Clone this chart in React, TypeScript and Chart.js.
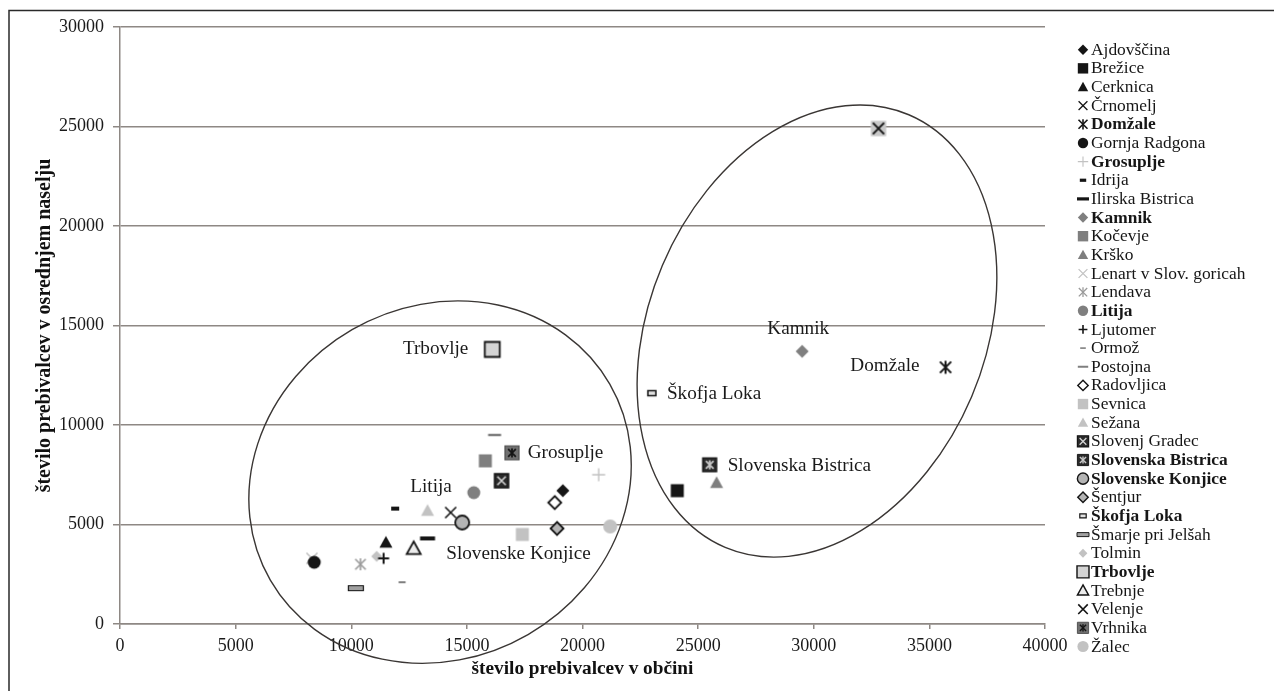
import React, { useEffect, useRef } from 'react';
import { Chart, registerables } from 'chart.js';

Chart.register(...registerables);

// ---------------- data ----------------
const MUNICIPALITIES = [
  'Ajdovščina', 'Brežice', 'Cerknica', 'Črnomelj', 'Domžale', 'Gornja Radgona', 'Grosuplje',
  'Idrija', 'Ilirska Bistrica', 'Kamnik', 'Kočevje', 'Krško', 'Lenart v Slov. goricah', 'Lendava',
  'Litija', 'Ljutomer', 'Ormož', 'Postojna', 'Radovljica', 'Sevnica', 'Sežana', 'Slovenj Gradec',
  'Slovenska Bistrica', 'Slovenske Konjice', 'Šentjur', 'Škofja Loka', 'Šmarje pri Jelšah', 'Tolmin',
  'Trbovlje', 'Trebnje', 'Velenje', 'Vrhnika', 'Žalec',
];

// število prebivalcev v občini
const MUNICIPALITY_POP = [
  19150, 24100, 11500, 14300, 35700, 8400, 20700,
  11900, 13300, 29500, 15800, 25800, 8300, 10400,
  15300, 11400, 12200, 16200, 18800, 17400, 13300, 16500,
  25500, 14800, 18900, 23000, 10200, 11100,
  16100, 12700, 32800, 16950, 21200,
];

// število prebivalcev v osrednjem naselju
const TOWN_POP = [
  6700, 6700, 4100, 5600, 12900, 3100, 7500,
  5800, 4300, 13700, 8200, 7100, 3300, 3000,
  6600, 3300, 2100, 9500, 6100, 4500, 5700, 7200,
  8000, 5100, 4800, 11600, 1800, 3400,
  13800, 3800, 24900, 8600, 4900,
];

const HIGHLIGHTED = [
  'Domžale', 'Grosuplje', 'Kamnik', 'Litija', 'Slovenska Bistrica', 'Slovenske Konjice', 'Škofja Loka', 'Trbovlje',
];

const X_TICKS = [0, 5000, 10000, 15000, 20000, 25000, 30000, 35000, 40000];
const Y_TICKS = [0, 5000, 10000, 15000, 20000, 25000, 30000];

const X_TITLE = 'število prebivalcev v občini';
const Y_TITLE = 'število prebivalcev v osrednjem naselju';

// ---------------- styles ----------------
const BLACK = '#151515';
const GREY = '#7f7f7f';
const LIGHT = '#c2c2c2';
const WHITE = '#ffffff';
const GRID = '#8e8884';
const FONT = "'Liberation Serif', 'Times New Roman', serif";

type Marker = {
  shape: string;
  fill?: string;
  stroke?: string;
  inner?: string;
  size?: number;
  w?: number;
  h?: number;
  lw?: number;
};

const MARKERS: Record<string, Marker> = {
  'Ajdovščina': { shape: 'diamond', fill: BLACK, size: 13 },
  'Brežice': { shape: 'square', fill: BLACK, size: 13 },
  'Cerknica': { shape: 'triangle', fill: BLACK, size: 13 },
  'Črnomelj': { shape: 'x', stroke: BLACK, size: 13, lw: 1.6 },
  'Domžale': { shape: 'asterisk', stroke: BLACK, size: 15, lw: 2 },
  'Gornja Radgona': { shape: 'circle', fill: BLACK, size: 13 },
  'Grosuplje': { shape: 'plus', stroke: LIGHT, size: 13, lw: 1.4 },
  'Idrija': { shape: 'dash', fill: BLACK, w: 8, h: 4 },
  'Ilirska Bistrica': { shape: 'dash', fill: BLACK, w: 15, h: 4 },
  'Kamnik': { shape: 'diamond', fill: GREY, size: 13 },
  'Kočevje': { shape: 'square', fill: GREY, size: 13 },
  'Krško': { shape: 'triangle', fill: GREY, size: 13 },
  'Lenart v Slov. goricah': { shape: 'x', stroke: LIGHT, size: 13, lw: 1.6 },
  'Lendava': { shape: 'asterisk', stroke: '#9a9a9a', size: 14, lw: 1.6 },
  'Litija': { shape: 'circle', fill: GREY, size: 13 },
  'Ljutomer': { shape: 'plus', stroke: BLACK, size: 11, lw: 2 },
  'Ormož': { shape: 'dash', fill: GREY, w: 7, h: 2 },
  'Postojna': { shape: 'dash', fill: GREY, w: 13, h: 2.5 },
  'Radovljica': { shape: 'diamond', fill: WHITE, stroke: BLACK, size: 13, lw: 1.8 },
  'Sevnica': { shape: 'square', fill: LIGHT, size: 13 },
  'Sežana': { shape: 'triangle', fill: LIGHT, size: 13 },
  'Slovenj Gradec': { shape: 'boxX', fill: '#2a2a2a', stroke: BLACK, inner: '#d6d6d6', size: 14 },
  'Slovenska Bistrica': { shape: 'boxAst', fill: '#2a2a2a', stroke: BLACK, inner: '#c8c8c8', size: 14 },
  'Slovenske Konjice': { shape: 'circle', fill: '#b4b4b4', stroke: BLACK, size: 14, lw: 1.8 },
  'Šentjur': { shape: 'diamond', fill: '#b4b4b4', stroke: BLACK, size: 13, lw: 1.8 },
  'Škofja Loka': { shape: 'dash', fill: '#e2e2e2', stroke: BLACK, w: 8, h: 5, lw: 1.5 },
  'Šmarje pri Jelšah': { shape: 'dash', fill: '#a0a0a0', stroke: BLACK, w: 15, h: 5, lw: 1.2 },
  'Tolmin': { shape: 'diamond', fill: LIGHT, size: 11 },
  'Trbovlje': { shape: 'square', fill: '#d4d4d4', stroke: BLACK, size: 15, lw: 1.8 },
  'Trebnje': { shape: 'triangle', fill: '#ececec', stroke: BLACK, size: 14, lw: 1.8 },
  'Velenje': { shape: 'xBox', fill: '#c8c8c8', stroke: BLACK, size: 14, lw: 2 },
  'Vrhnika': { shape: 'boxAst', fill: '#707070', stroke: '#505050', inner: BLACK, size: 14 },
  'Žalec': { shape: 'circle', fill: LIGHT, size: 14 },
};

// labels next to points: anchor municipality + pixel offset
const POINT_LABELS = [
  { text: 'Trbovlje', anchor: 'Trbovlje', dx: -24, dy: 0, align: 'right' },
  { text: 'Grosuplje', anchor: 'Grosuplje', dx: -71, dy: -22, align: 'left' },
  { text: 'Litija', anchor: 'Litija', dx: -22, dy: -6, align: 'right' },
  { text: 'Slovenske Konjice', anchor: 'Slovenske Konjice', dx: -16, dy: 31, align: 'left' },
  { text: 'Kamnik', anchor: 'Kamnik', dx: -4, dy: -22, align: 'center' },
  { text: 'Domžale', anchor: 'Domžale', dx: -26, dy: -1, align: 'right' },
  { text: 'Škofja Loka', anchor: 'Škofja Loka', dx: 15, dy: 1, align: 'left' },
  { text: 'Slovenska Bistrica', anchor: 'Slovenska Bistrica', dx: 18, dy: 1, align: 'left' },
];

// ellipses: centre in data units, semi-axes in px, rotation in degrees
const ELLIPSES = [
  { cx: 13840, cy: 7130, a: 196, b: 176, rot: -30 },
  { cx: 30140, cy: 14720, a: 235, b: 168, rot: -67 },
];

// ---------------- drawing helpers ----------------
function drawMarker(ctx: CanvasRenderingContext2D, m: Marker, x: number, y: number, legend = false) {
  const s = (m.size || 12) / 2;
  ctx.save();
  ctx.lineJoin = 'miter';
  ctx.lineCap = 'butt';
  const lw = m.lw || 1.5;
  const fillStroke = () => {
    if (m.fill) {
      ctx.fillStyle = m.fill;
      ctx.fill();
    }
    if (m.stroke) {
      ctx.strokeStyle = m.stroke;
      ctx.lineWidth = lw;
      ctx.stroke();
    }
  };
  const xLines = (r: number, color: string, w: number) => {
    ctx.beginPath();
    ctx.moveTo(x - r, y - r);
    ctx.lineTo(x + r, y + r);
    ctx.moveTo(x + r, y - r);
    ctx.lineTo(x - r, y + r);
    ctx.strokeStyle = color;
    ctx.lineWidth = w;
    ctx.stroke();
  };
  const astLines = (r: number, color: string, w: number) => {
    xLines(r, color, w);
    ctx.beginPath();
    ctx.moveTo(x, y - r * 1.15);
    ctx.lineTo(x, y + r * 1.15);
    ctx.strokeStyle = color;
    ctx.lineWidth = w;
    ctx.stroke();
  };
  let shape = m.shape;
  if (legend && shape === 'xBox') shape = 'x';
  switch (shape) {
    case 'diamond':
      ctx.beginPath();
      ctx.moveTo(x, y - s);
      ctx.lineTo(x + s, y);
      ctx.lineTo(x, y + s);
      ctx.lineTo(x - s, y);
      ctx.closePath();
      fillStroke();
      break;
    case 'square':
      ctx.beginPath();
      ctx.rect(x - s, y - s, 2 * s, 2 * s);
      fillStroke();
      break;
    case 'triangle':
      ctx.beginPath();
      ctx.moveTo(x, y - s * 1.0);
      ctx.lineTo(x + s, y + s * 0.8);
      ctx.lineTo(x - s, y + s * 0.8);
      ctx.closePath();
      fillStroke();
      break;
    case 'circle':
      ctx.beginPath();
      ctx.arc(x, y, s, 0, Math.PI * 2);
      fillStroke();
      break;
    case 'x':
      xLines(s * 0.85, m.stroke || BLACK, lw);
      break;
    case 'asterisk':
      astLines(s * 0.75, m.stroke || BLACK, lw);
      break;
    case 'plus':
      ctx.beginPath();
      ctx.moveTo(x - s, y);
      ctx.lineTo(x + s, y);
      ctx.moveTo(x, y - s);
      ctx.lineTo(x, y + s);
      ctx.strokeStyle = m.stroke || BLACK;
      ctx.lineWidth = lw;
      ctx.stroke();
      break;
    case 'dash': {
      const w = m.w || 8;
      const h = m.h || 3;
      ctx.beginPath();
      ctx.rect(x - w / 2, y - h / 2, w, h);
      fillStroke();
      break;
    }
    case 'boxX':
      ctx.beginPath();
      ctx.rect(x - s, y - s, 2 * s, 2 * s);
      ctx.fillStyle = m.fill || BLACK;
      ctx.fill();
      ctx.strokeStyle = m.stroke || BLACK;
      ctx.lineWidth = 1.5;
      ctx.stroke();
      xLines(s * 0.6, m.inner || WHITE, 1.6);
      break;
    case 'boxAst':
      ctx.beginPath();
      ctx.rect(x - s, y - s, 2 * s, 2 * s);
      ctx.fillStyle = m.fill || BLACK;
      ctx.fill();
      ctx.strokeStyle = m.stroke || BLACK;
      ctx.lineWidth = 1.2;
      ctx.stroke();
      astLines(s * 0.55, m.inner || WHITE, 1.8);
      break;
    case 'xBox':
      ctx.beginPath();
      ctx.rect(x - s * 1.1, y - s * 1.1, 2.2 * s, 2.2 * s);
      ctx.fillStyle = m.fill || LIGHT;
      ctx.fill();
      xLines(s * 0.8, m.stroke || BLACK, lw);
      break;
  }
  ctx.restore();
}

function makePointStyle(m: Marker): HTMLCanvasElement {
  const c = document.createElement('canvas');
  c.width = 26;
  c.height = 26;
  const ctx = c.getContext('2d') as CanvasRenderingContext2D;
  drawMarker(ctx, m, 13, 13);
  return c;
}

const LEGEND_MARK_X = 1083;
const LEGEND_TEXT_X = 1091;
const LEGEND_TOP = 49.7;
const LEGEND_ROW = 18.65;
const LEGEND_SCALE = 0.8;

const legendPlugin = {
  id: 'customLegend',
  afterDraw(chart: any) {
    const ctx: CanvasRenderingContext2D = chart.ctx;
    ctx.save();
    MUNICIPALITIES.forEach((name, i) => {
      const y = LEGEND_TOP + i * LEGEND_ROW;
      ctx.save();
      ctx.translate(LEGEND_MARK_X, y);
      ctx.scale(LEGEND_SCALE, LEGEND_SCALE);
      drawMarker(ctx, MARKERS[name], 0, 0, true);
      ctx.restore();
      const bold = HIGHLIGHTED.includes(name);
      ctx.font = `${bold ? 'bold ' : ''}17.4px ${FONT}`;
      ctx.fillStyle = '#161616';
      ctx.textAlign = 'left';
      ctx.textBaseline = 'middle';
      ctx.fillText(name, LEGEND_TEXT_X, y + 0.5);
    });
    ctx.restore();
  },
};

const annotationPlugin = {
  id: 'annotations',
  afterDatasetsDraw(chart: any) {
    const ctx: CanvasRenderingContext2D = chart.ctx;
    const xs = chart.scales.x;
    const ys = chart.scales.y;
    ctx.save();
    // point labels
    ctx.font = `19.2px ${FONT}`;
    ctx.fillStyle = '#1a1a1a';
    ctx.textBaseline = 'middle';
    POINT_LABELS.forEach((l) => {
      const idx = MUNICIPALITIES.indexOf(l.anchor);
      const el = chart.getDatasetMeta(idx).data[0];
      if (!el) return;
      ctx.textAlign = l.align as CanvasTextAlign;
      ctx.fillText(l.text, el.x + l.dx, el.y + l.dy);
    });
    // ellipses
    ctx.strokeStyle = '#3a3634';
    ctx.lineWidth = 1.4;
    ELLIPSES.forEach((e) => {
      const px = xs.getPixelForValue(e.cx);
      const py = ys.getPixelForValue(e.cy);
      ctx.beginPath();
      ctx.ellipse(px, py, e.a, e.b, (e.rot * Math.PI) / 180, 0, Math.PI * 2);
      ctx.stroke();
    });
    ctx.restore();
  },
  afterDraw(chart: any) {
    const ctx: CanvasRenderingContext2D = chart.ctx;
    ctx.save();
    ctx.strokeStyle = '#2a2a2a';
    ctx.lineWidth = 1.5;
    ctx.strokeRect(9, 10.5, 2000, 2000);
    ctx.restore();
  },
};

export default function App() {
  const ref = useRef<HTMLCanvasElement | null>(null);

  useEffect(() => {
    if (!ref.current) return;
    Chart.defaults.font.family = FONT;
    const datasets = MUNICIPALITIES.map((name, i) => ({
      label: name,
      data: [{ x: MUNICIPALITY_POP[i], y: TOWN_POP[i] }],
      pointStyle: makePointStyle(MARKERS[name]) as any,
      pointRadius: 6,
      pointHoverRadius: 6,
    }));
    const chart = new Chart(ref.current, {
      type: 'scatter',
      data: { datasets },
      options: {
        animation: false,
        responsive: true,
        maintainAspectRatio: false,
        events: [],
        layout: { padding: { left: 0, top: 27, right: 229, bottom: 0 } },
        plugins: {
          legend: { display: false },
          tooltip: { enabled: false },
        },
        scales: {
          x: {
            type: 'linear',
            min: X_TICKS[0],
            max: X_TICKS[X_TICKS.length - 1],
            afterFit: (s: any) => {
              s.height = 67;
            },
            ticks: {
              stepSize: X_TICKS[1] - X_TICKS[0],
              autoSkip: false,
              maxRotation: 0,
              padding: 6,
              color: '#1a1a1a',
              font: { size: 18, family: FONT },
              callback: (v: any) => String(v),
            },
            grid: {
              drawOnChartArea: false,
              drawTicks: true,
              tickLength: 5,
              color: GRID,
              lineWidth: 1.5,
            },
            border: { display: true, color: GRID, width: 1.5 },
            title: {
              display: true,
              text: X_TITLE,
              color: '#111',
              font: { size: 19.3, weight: 'bold', family: FONT },
              padding: { top: 0, bottom: 10 },
            },
          },
          y: {
            type: 'linear',
            min: Y_TICKS[0],
            max: Y_TICKS[Y_TICKS.length - 1],
            afterFit: (s: any) => {
              s.width = 120;
            },
            ticks: {
              stepSize: Y_TICKS[1] - Y_TICKS[0],
              padding: 9,
              color: '#1a1a1a',
              font: { size: 18, family: FONT },
              callback: (v: any) => String(v),
            },
            grid: {
              drawOnChartArea: true,
              drawTicks: true,
              tickLength: 7,
              color: GRID,
              lineWidth: 1.5,
            },
            border: { display: true, color: GRID, width: 1.5 },
            title: {
              display: true,
              text: Y_TITLE,
              color: '#111',
              font: { size: 20, weight: 'bold', family: FONT },
              padding: { top: 33, bottom: 0 },
            },
          },
        },
      },
      plugins: [annotationPlugin, legendPlugin],
    });
    return () => chart.destroy();
  }, []);

  return (
    <div style={{ position: 'fixed', left: 0, top: 0, width: 1274, height: 691, background: '#fff', overflow: 'hidden' }}>
      <canvas ref={ref} />
    </div>
  );
}
